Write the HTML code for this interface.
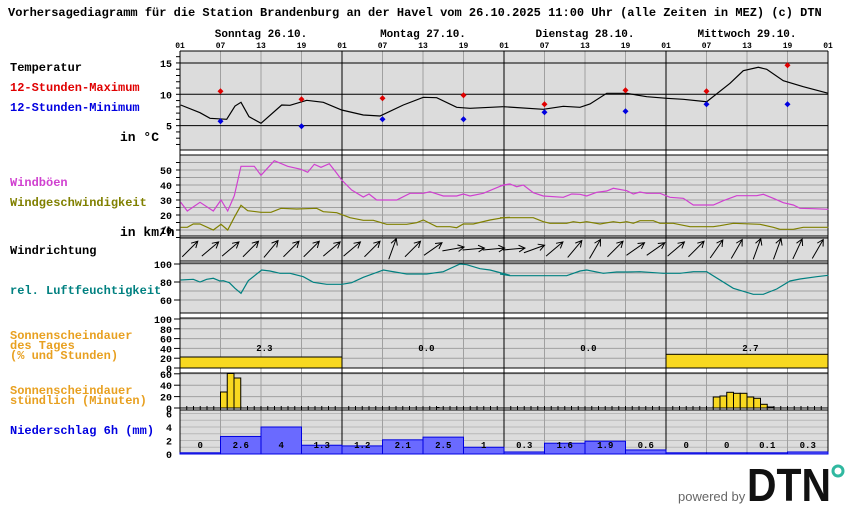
<!DOCTYPE html>
<html><head><meta charset="utf-8"><style>
body{margin:0;background:#fff;width:850px;height:524px;overflow:hidden}
svg{display:block}
text{font-family:"Liberation Mono",monospace;font-weight:bold}
</style></head><body>
<svg id="s" width="850" height="524" xmlns="http://www.w3.org/2000/svg"></svg>
<script>
const S=document.getElementById('s');let h='';
const X=hr=>180+hr*6.75;
function L(x1,y1,x2,y2,c,w){h+=`<line x1="${x1}" y1="${y1}" x2="${x2}" y2="${y2}" stroke="${c}" stroke-width="${w||1}"/>`;}
function T(x,y,t,c,fs,anc){h+=`<text x="${x}" y="${y}" fill="${c||'#000'}" font-size="${fs||12}" ${anc?`text-anchor="${anc}"`:''}>${t}</text>`;}
function R(x,y,w,hh,f,st){h+=`<rect x="${x}" y="${y}" width="${w}" height="${hh}" fill="${f}" ${st?`stroke="${st}"`:''}/>`;}
function P(pts,c,ox,oy,sx,sy){h+=`<polyline fill="none" stroke="${c}" stroke-width="1.2" points="${pts.map(p=>(ox+p[0]/sx).toFixed(1)+','+(oy+p[1]/sy).toFixed(1)).join(' ')}"/>`;}
// panels
const panels=[[51,150],[155,236],[238,261],[263,313],[318,368],[373,408],[410,454]];
panels.forEach(p=>R(180,p[0],648,p[1]-p[0],'#dcdcdc'));
// horizontal grids
for(let v=5;v<=60;v+=5){let y=245-v*1.5;if(y>155)L(180,y,828,y,'#a0a0a0');}
for(let v=60;v<=100;v+=10){L(180,300-(v-60)*0.9,828,300-(v-60)*0.9,'#a0a0a0');}
for(let v=20;v<=100;v+=20)L(180,368-v*0.49,828,368-v*0.49,'#a0a0a0');
for(let v=20;v<=60;v+=20)L(180,408-v*0.57,828,408-v*0.57,'#a0a0a0');
for(let v=1;v<=6;v++)L(180,454-v*6.75,828,454-v*6.75,'#b8b8b8');
// vertical grids
for(let d=0;d<4;d++){for(let k=1;k<4;k++){L(X(d*24+k*6),51,X(d*24+k*6),454,'#a0a0a0');}}
for(let d=0;d<=4;d++)L(X(d*24),51,X(d*24),454,'#000');
// temp lines
[15,10,5].forEach(t=>L(180,157-t*6.27,828,157-t*6.27,'#000'));
panels.forEach(p=>{L(180,p[0],828,p[0],'#000');L(180,p[1],828,p[1],'#000');});
L(180,51,180,454,'#000');L(828,51,828,454,'#000');
// hourly ticks on sun axis
for(let i=0;i<=96;i++)L(X(i),406,X(i),410,'#000');
// axis labels & ticks
for(let t=2;t<=16;t++)L(176,157-t*6.27,180,157-t*6.27,'#000');
[15,10,5].forEach(t=>T(172,157-t*6.27+4,t,'#000',10,'end'));
[10,20,30,40,50].forEach(v=>{T(172,245-v*1.5+4,v,'#000',10,'end');});
for(let v=5;v<=55;v+=5)L(176,245-v*1.5,180,245-v*1.5,'#000');
[100,80,60].forEach(v=>{T(172,300-(v-60)*0.9+4,v,'#000',10,'end');L(174,300-(v-60)*0.9,180,300-(v-60)*0.9,'#000');});
[100,80,60,40,20,0].forEach(v=>{T(172,368-v*0.49+4,v,'#000',10,'end');L(174,368-v*0.49,180,368-v*0.49,'#000');});
[60,40,20,0].forEach(v=>{T(172,408-v*0.57+4,v,'#000',10,'end');L(174,408-v*0.57,180,408-v*0.57,'#000');});
[6,4,2,0].forEach(v=>{T(172,454-v*6.75+4,v,'#000',10,'end');});
// header
T(8,16,'Vorhersagediagramm für die Station Brandenburg an der Havel vom 26.10.2025 11:00 Uhr (alle Zeiten in MEZ)   (c) DTN','#000',12);
['Sonntag 26.10.','Montag 27.10.','Dienstag 28.10.','Mittwoch 29.10.'].forEach((d,i)=>T(X(i*24+12),37,d,'#000',11,'middle'));
for(let i=0;i<=16;i++){T(X(i*6),48,['01','07','13','19'][i%4],'#000',8,'middle');}
// left labels
T(10,71,'Temperatur','#000',12);T(10,91,'12-Stunden-Maximum','#e00000',12);T(10,111,'12-Stunden-Minimum','#0000e0',12);
T(120,141,'in °C','#000',13);T(10,186,'Windböen','#d040d0',12);T(10,206,'Windgeschwindigkeit','#808000',12);
T(120,236,'in km/h','#000',13);T(10,254,'Windrichtung','#000',12);T(10,294,'rel. Luftfeuchtigkeit','#008080',12);
T(10,339,'Sonnenscheindauer','#e8a020',12);T(10,349,'des Tages','#e8a020',12);T(10,359,'(% und Stunden)','#e8a020',12);
T(10,394,'Sonnenscheindauer','#e8a020',12);T(10,404,'stündlich (Minuten)','#e8a020',12);T(10,434,'Niederschlag 6h (mm)','#0000e0',12);
// sunshine daily
R(180,357,162,11,'#f8d820','#000');R(666,354.3,162,13.7,'#f8d820','#000');
[['2.3',0],['0.0',1],['0.0',2],['2.7',3]].forEach(a=>T(X(a[1]*24+12.5),351,a[0],'#000',9,'middle'));
// hourly sun
[[6,392],[7,373.5],[8,378]].forEach(b=>R(X(b[0]),b[1],6.75,408-b[1],'#f8d820','#000'));
[[79,397],[80,396],[81,392.3],[82,393.3],[83,393.3],[84,397],[85,398.3],[86,404.3],[87,407]].forEach(b=>R(X(b[0]),b[1],6.75,408-b[1],'#f8d820','#000'));
R(X(38),407,3,1,'#000');
// precip
[0,2.6,4,1.3,1.2,2.1,2.5,1,0.3,1.6,1.9,0.6,0,0,0.1,0.3].forEach((v,i)=>{let hh=Math.max(v*6.75,1.2);R(X(i*6),454-hh,40.5,hh,'#6a6aff','#0000e0');T(X(i*6+3),448,v===0?'0':String(v),'#000',9,'middle');});
// temperature
P([[32,225],[90,248],[120,265],[170,268],[195,228],[213,217],[237,260],[273,280],[335,225],[360,226],[410,211],[460,217],[515,240],[580,255],[630,258],[700,225],[760,202],[800,203],[860,232],[900,235],[1000,230]],'#000',170,30,3,3);
P([[10,230],[130,238],[190,229],[240,232],[270,222],[320,190],[380,190],[440,200],[500,205],[550,208],[620,215],[690,160],[730,122],[775,112],[800,118],[850,152],[910,170],[985,190]],'#000',500,30,3,3);
function mk(x,y,c){h+=`<path d="M${x-3},${y}L${x},${y-3}L${x+3},${y}L${x},${y+3}Z" fill="${c}"/>`;}
[[6,91.3,121.3],[18,99.3,126.3],[30,98.3,119.3],[42,95.3,119.3],[54,104.3,112.3],[66,90.3,111.3],[78,91.3,104.3],[90,65.3,104.3]].forEach(m=>{mk(X(m[0]),m[1],'#e00000');mk(X(m[0]),m[2],'#0000e0');});
// wind
P([[32,517],[52,543],[90,517],[130,543],[153,510],[173,543],[193,497],[213,409],[253,409],[273,436],[313,392],[353,409],[393,418],[413,427],[433,403],[453,412],[478,401],[498,427],[515,450],[545,480],[580,501],[597,492],[620,510],[680,510],[720,490],[760,490],[780,485],[820,498],[860,498],[880,492],[900,498],[940,490],[1000,465],[1020,462]],'#d040d0',170,30,3,3);
P([[0,468],[30,462],[50,470],[70,465],[100,488],[130,498],[190,502],[215,492],[240,493],[260,498],[290,487],[320,483],[340,475],[380,482],[400,492],[420,486],[440,490],[480,490],[510,502],[550,505],[580,525],[640,525],[670,512],[710,497],[770,497],[790,493],[820,505],[850,518],[880,525],[900,535],[940,536],[985,538]],'#d040d0',500,30,3,3);
P([[32,592],[52,592],[70,582],[90,582],[130,600],[153,583],[173,600],[193,562],[213,526],[233,542],[273,547],[303,547],[333,535],[380,537],[440,535],[460,545],[500,548],[540,563],[580,571],[610,571],[650,583],[710,583],[740,578],[760,570],[800,590],[840,590],[860,593],[880,582],[910,582],[960,570],[1000,563],[1020,562]],'#808000',170,30,3,3);
P([[0,563],[100,563],[130,575],[150,580],[200,580],[220,575],[240,578],[260,575],[300,582],[340,575],[360,578],[380,575],[400,580],[420,572],[460,572],[480,580],[520,580],[570,590],[640,590],[660,587],[700,580],[780,583],[820,592],[840,598],[880,598],[910,592],[985,592]],'#808000',500,30,3,3);
// humidity
P([[32,90],[70,88],[90,96],[110,88],[130,85],[150,93],[160,92],[178,98],[195,115],[213,130],[235,92],[275,60],[300,63],[330,70],[360,70],[400,80],[430,97],[470,103],[515,103],[545,98],[580,82],[640,60],[710,72],[770,72],[820,65],[870,42],[890,44],[930,56],[960,60],[1020,76]],'#008080',170,250,3,3);
P([[0,72],[30,77],[200,77],[240,63],[260,60],[310,70],[350,66],[380,66],[420,65],[490,70],[540,70],[580,65],[620,65],[700,115],[760,133],[790,133],[830,117],[870,93],[900,87],[950,80],[985,76]],'#008080',500,250,3,3);
// wind direction arrows
const ang=[45,40,40,45,50,45,45,40,40,45,70,45,35,10,5,5,5,20,40,50,60,45,35,35,40,45,55,60,70,70,65,60];
ang.forEach((a,i)=>{let cx=X(i*3)+10,cy=249,r=a*Math.PI/180,dx=Math.cos(r)*11,dy=-Math.sin(r)*11;
let x1=cx-dx,y1=cy-dy,x2=cx+dx,y2=cy+dy;
let b1=r+Math.PI-0.5,b2=r+Math.PI+0.5;
h+=`<path d="M${x1},${y1}L${x2},${y2}M${x2+Math.cos(b1)*7},${y2-Math.sin(b1)*7}L${x2},${y2}L${x2+Math.cos(b2)*7},${y2-Math.sin(b2)*7}" stroke="#000" fill="none" stroke-width="1"/>`;});
// logo
h+=`<text x="678" y="501" fill="#666" font-size="13" style="font-family:'Liberation Sans',sans-serif;font-weight:normal">powered by</text>`;
h+=`<text x="747" y="501" fill="#111" font-size="46" textLength="84" lengthAdjust="spacingAndGlyphs" style="font-family:'Liberation Sans',sans-serif;font-weight:bold">DTN</text>`;
h+=`<circle cx="838" cy="471" r="5" fill="none" stroke="#30b8a0" stroke-width="3"/>`;
S.innerHTML=h;
</script>
</body></html>
